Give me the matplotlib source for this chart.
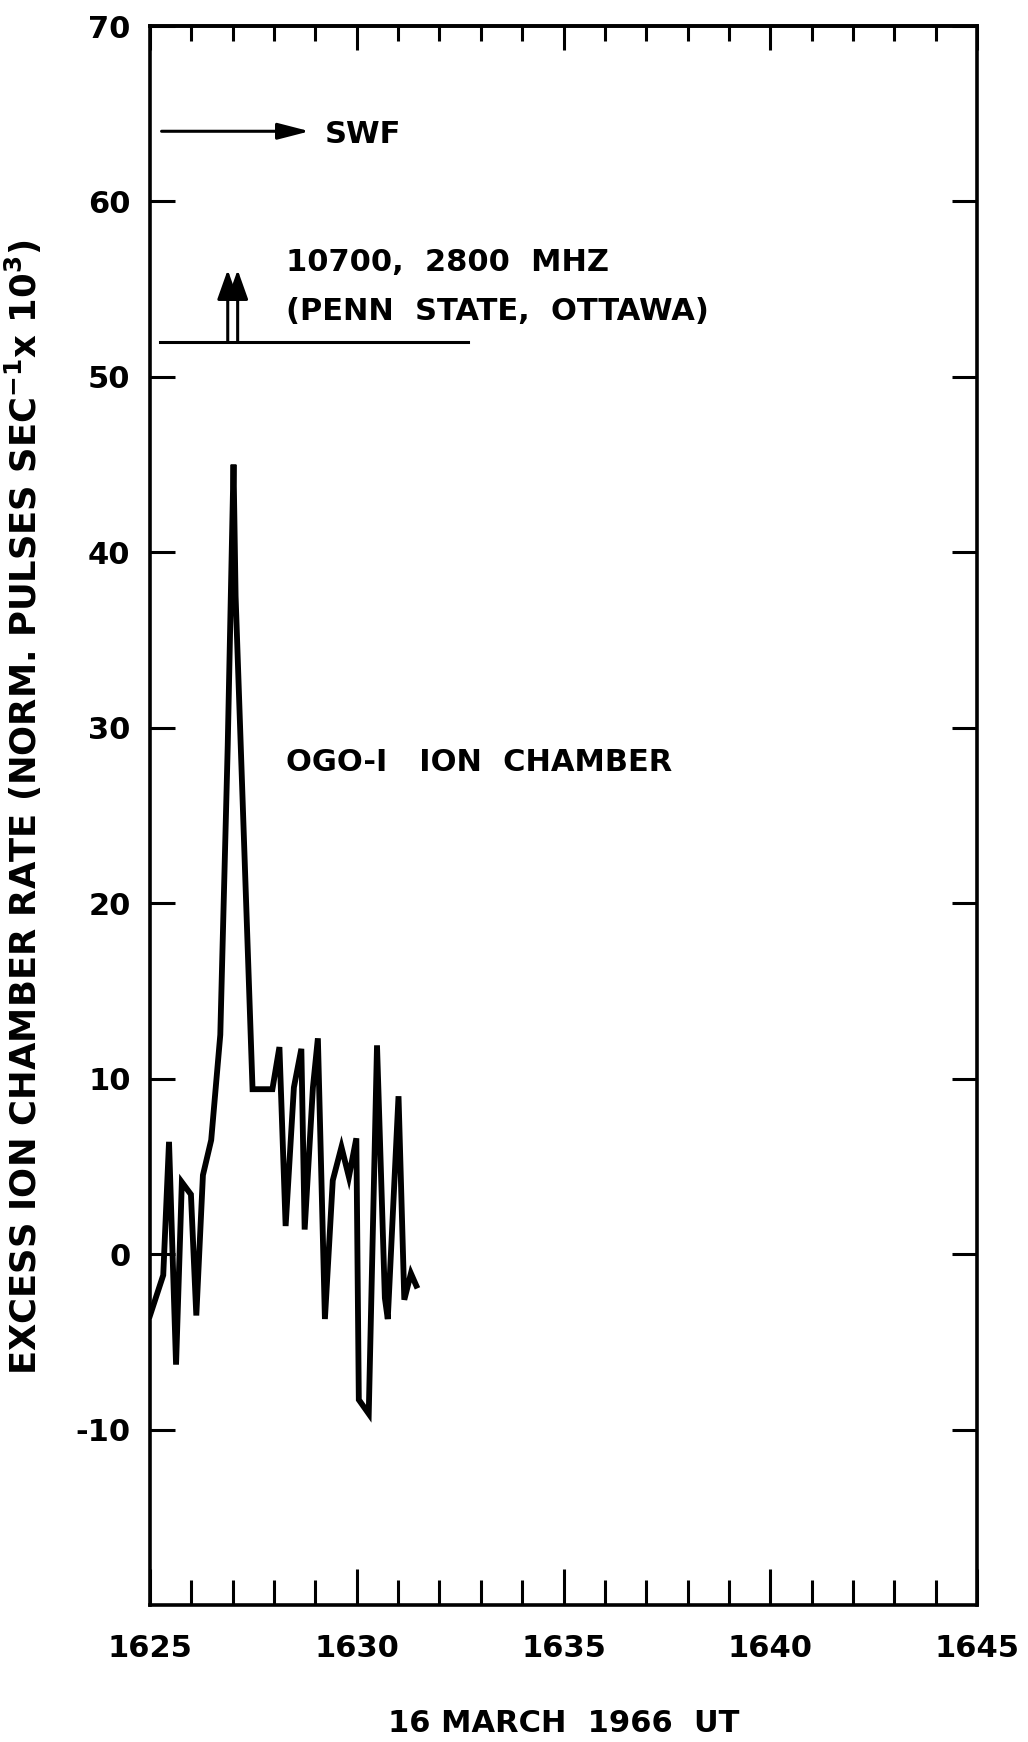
import matplotlib
matplotlib.use("Agg")
import matplotlib.pyplot as plt
from matplotlib.ticker import MultipleLocator

# OGO-I ion chamber excess rate, 16 March 1966 (UT as hhmm + fraction of minute)
times = [1625.0, 1625.32, 1625.46, 1625.63, 1625.77, 1625.99, 1626.12, 1626.28,
         1626.48, 1626.70, 1626.88, 1627.02, 1627.07, 1627.48, 1627.96, 1628.13,
         1628.28, 1628.48, 1628.66, 1628.74, 1628.94, 1629.06, 1629.23, 1629.42,
         1629.63, 1629.81, 1629.99, 1630.05, 1630.29, 1630.49, 1630.68, 1630.75,
         1631.01, 1631.15, 1631.31, 1631.44]
rates = [-3.5, -1.2, 6.4, -6.3, 4.1, 3.4, -3.5, 4.5,
         6.5, 12.5, 29.0, 45.0, 37.5, 9.4, 9.4, 11.8,
         1.6, 9.5, 11.7, 1.4, 9.5, 12.3, -3.7, 4.2,
         6.1, 4.4, 6.6, -8.3, -9.1, 11.9, -2.5, -3.7,
         9.0, -2.6, -1.1, -1.8]

# markers drawn on the plot
swf_start, swf_end, swf_level = 1625.28, 1628.86, 64
radio_line = [1625.24, 1632.7]
radio_level = 52
radio_arrows = [1626.88, 1627.12]
radio_tip = 56.1

xticks_major = list(range(1625, 1646, 5))
yticks_major = list(range(-10, 71, 10))

FS = 22
plt.rcParams['font.family'] = ['DejaVu Sans']
plt.rcParams['font.weight'] = 'bold'
plt.rcParams['axes.labelweight'] = 'bold'

fig = plt.figure(figsize=(10.28, 17.42), dpi=100)
ax = fig.add_axes([150 / 1028, 1 - 1605 / 1742, 827 / 1028, (1605 - 26) / 1742])

ax.plot(times, rates, color='black', lw=4.2, solid_joinstyle='miter')

ax.set_xlim(1625, 1645)
ax.set_ylim(-20, 70)

for s in ax.spines.values():
    s.set_linewidth(2.6)

ax.set_xticks(xticks_major)
ax.set_xticklabels([str(x) for x in xticks_major])
ax.xaxis.set_minor_locator(MultipleLocator(1))
ax.set_yticks(yticks_major)
ax.set_yticklabels([str(y) for y in yticks_major])

ax.tick_params(axis='x', which='major', direction='in', length=26, width=2.2,
               pad=21, labelsize=FS, top=False)
ax.tick_params(axis='x', which='minor', direction='in', length=18, width=2.2, top=False)
ax.tick_params(axis='y', which='major', direction='in', length=18, width=2.2,
               pad=14, labelsize=FS, right=True)

# top ticks are shorter than the bottom ones
top = ax.secondary_xaxis('top')
top.set_xticks(xticks_major)
top.xaxis.set_minor_locator(MultipleLocator(1))
top.tick_params(axis='x', which='major', direction='in', length=17, width=2.2,
                labeltop=False)
top.tick_params(axis='x', which='minor', direction='in', length=11, width=2.2)
top.spines['top'].set_linewidth(2.6)

ax.set_xlabel('16 MARCH  1966  UT', fontsize=FS)
ax.xaxis.set_label_coords(0.5, -0.066)
ax.set_ylabel(r'EXCESS ION CHAMBER RATE (NORM. PULSES SEC$^{-\mathbf{1}}$x 10$^{\mathbf{3}}$)',
              fontsize=25.5)
ax.yaxis.set_label_coords(-0.128, 0.505)

# SWF arrow
ax.annotate('', xy=(swf_end, swf_level), xytext=(swf_start, swf_level),
            arrowprops=dict(arrowstyle='-|>,head_length=0.97,head_width=0.25',
                            mutation_scale=20, lw=2.2, color='black',
                            shrinkA=0, shrinkB=0))
ax.text(1629.22, 63.8, 'SWF', fontsize=FS, va='center', ha='left')

# radio burst onset
ax.plot(radio_line, [radio_level, radio_level], color='black', lw=2.2)
for xa in radio_arrows:
    ax.annotate('', xy=(xa, radio_tip), xytext=(xa, radio_level),
                arrowprops=dict(arrowstyle='-|>,head_length=0.9,head_width=0.32',
                                mutation_scale=20, lw=2.2, color='black',
                                shrinkA=0, shrinkB=0))
ax.text(1628.3, 56.5, '10700,  2800  MHZ', fontsize=FS, va='center', ha='left')
ax.text(1628.3, 53.7, '(PENN  STATE,  OTTAWA)', fontsize=FS, va='center', ha='left')

ax.text(1628.3, 28.0, 'OGO-I   ION  CHAMBER', fontsize=FS, va='center', ha='left')

fig.savefig('out.png', dpi=100)
